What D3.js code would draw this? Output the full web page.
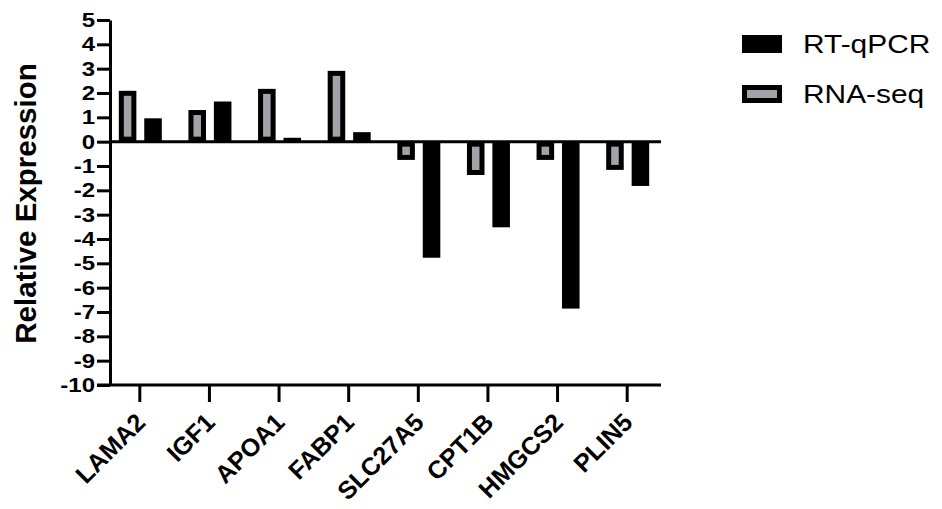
<!DOCTYPE html>
<html>
<head>
<meta charset="utf-8">
<script src="https://cdn.jsdelivr.net/npm/d3@7"></script>
<style>
  body { margin: 0; background: #fff; }
  text { font-family: "Liberation Sans", Arial, sans-serif; }
</style>
</head>
<body>
<svg id="chart" width="942" height="509"></svg>
<script>
// genes on the x axis
const genes = ['LAMA2', 'IGF1', 'APOA1', 'FABP1', 'SLC27A5', 'CPT1B', 'HMGCS2', 'PLIN5'];
// series names (left bar first)
const seriesNames = ['RNA-seq', 'RT-qPCR'];
// relative expression
const rnaSeq = [2.09, 1.30, 2.17, 2.91, -0.75, -1.37, -0.75, -1.16];
const rtqPcr = [0.96, 1.65, 0.16, 0.39, -4.77, -3.52, -6.86, -1.82];
// y axis ticks
const yTicks = [5, 4, 3, 2, 1, 0, -1, -2, -3, -4, -5, -6, -7, -8, -9, -10];
// legend order as in the figure
const legendItems = ['RT-qPCR', 'RNA-seq'];

const GRAY = '#a2a2a8';
const svg = d3.select('#chart');

const x = d3.scaleBand()
  .domain(genes)
  .range([105, 662]);

const x1 = d3.scaleBand()
  .domain(seriesNames)
  .range([-21, 22])
  .paddingInner(0.31);

const y = d3.scaleLinear()
  .domain([-10, 5])
  .range([385, 20]);

const rows = genes.map((g, i) => ({ gene: g, 'RNA-seq': rnaSeq[i], 'RT-qPCR': rtqPcr[i] }));

// bars
const groups = svg.append('g')
  .selectAll('g')
  .data(rows)
  .join('g')
  .attr('transform', d => `translate(${x(d.gene) + x.bandwidth() / 2},0)`);

const bw = 5; // border of the gray bars
groups.selectAll('rect')
  .data(d => seriesNames.map(s => ({ key: s, value: d[s] })))
  .join('rect')
  .attr('x', d => x1(d.key) + (d.key === 'RNA-seq' ? bw / 2 : 0))
  .attr('width', d => x1.bandwidth() - (d.key === 'RNA-seq' ? bw : 0))
  .attr('y', d => Math.min(y(d.value), y(0)) + (d.key === 'RNA-seq' ? bw / 2 : 0))
  .attr('height', d => Math.abs(y(d.value) - y(0)) - (d.key === 'RNA-seq' ? bw : 0))
  .attr('fill', d => d.key === 'RNA-seq' ? GRAY : '#000')
  .attr('stroke', d => d.key === 'RNA-seq' ? '#000' : 'none')
  .attr('stroke-width', bw);

// zero line
svg.append('line')
  .attr('x1', 109).attr('x2', 661)
  .attr('y1', y(0)).attr('y2', y(0))
  .attr('stroke', '#000').attr('stroke-width', 3);

// y axis
const yAxis = svg.append('g')
  .attr('transform', 'translate(110,0)')
  .call(d3.axisLeft(y).tickValues(yTicks).tickSize(13).tickSizeOuter(0)
    .tickFormat(d => String(d)));
yAxis.select('.domain').attr('stroke-width', 3);
yAxis.selectAll('.tick line').attr('stroke-width', 3);
// the labels in the figure are a bit wide, so stretch them
yAxis.selectAll('.tick text')
  .attr('x', -15 / 1.2)
  .attr('transform', 'scale(1.2,1)')
  .attr('font-size', 20)
  .attr('font-weight', 'bold')
  .attr('font-family', '"Liberation Sans", Arial, sans-serif')
  .attr('fill', '#000');

// x axis
const xAxis = svg.append('g')
  .attr('transform', `translate(0,${y(-10)})`)
  .call(d3.axisBottom(x).tickSize(17).tickSizeOuter(0).tickFormat(''));
xAxis.select('.domain').remove();
xAxis.selectAll('.tick line').attr('stroke-width', 3);
xAxis.append('line')
  .attr('x1', 97).attr('x2', 661)
  .attr('stroke', '#000').attr('stroke-width', 3);

svg.append('g')
  .selectAll('text')
  .data(genes)
  .join('text')
  .attr('transform', d => `translate(${x(d) + x.bandwidth() / 2 + 7},${y(-10) + 39}) rotate(-45)`)
  .attr('text-anchor', 'end')
  .attr('font-size', 25)
  .attr('font-weight', 'bold')
  .text(d => d);

// y axis title
svg.append('text')
  .attr('transform', `translate(36,${(62 + 345) / 2}) rotate(-90)`)
  .attr('text-anchor', 'middle')
  .attr('font-size', 29.5)
  .attr('font-weight', 'bold')
  .text('Relative Expression');

// legend
const legend = svg.append('g')
  .selectAll('g')
  .data(legendItems)
  .join('g')
  .attr('transform', (d, i) => `translate(742,${35 + i * 50})`);

legend.append('rect')
  .attr('x', d => d === 'RNA-seq' ? bw / 2 : 0)
  .attr('y', d => d === 'RNA-seq' ? bw / 2 : 0)
  .attr('width', d => d === 'RNA-seq' ? 40 - bw : 40)
  .attr('height', d => d === 'RNA-seq' ? 18 - bw : 18)
  .attr('fill', d => d === 'RNA-seq' ? GRAY : '#000')
  .attr('stroke', d => d === 'RNA-seq' ? '#000' : 'none')
  .attr('stroke-width', bw);

legend.append('text')
  .attr('transform', 'translate(61,18) scale(1.15,1)')
  .attr('font-size', 26)
  .text(d => d);
</script>
</body>
</html>
